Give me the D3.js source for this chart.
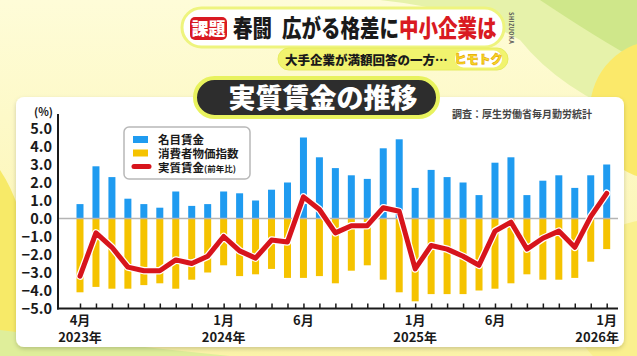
<!DOCTYPE html>
<html><head><meta charset="utf-8">
<script src="https://cdn.jsdelivr.net/npm/d3@7"></script>
<style>
html,body{margin:0;padding:0;overflow:hidden;background:#fdfbd2;}
svg{display:block;}
text{font-family:"Noto Sans CJK JP","Noto Sans",sans-serif;}
</style></head>
<body>
<script>
const months = ["2023-04","2023-05","2023-06","2023-07","2023-08","2023-09","2023-10","2023-11","2023-12",
"2024-01","2024-02","2024-03","2024-04","2024-05","2024-06","2024-07","2024-08","2024-09","2024-10","2024-11","2024-12",
"2025-01","2025-02","2025-03","2025-04","2025-05","2025-06","2025-07","2025-08","2025-09","2025-10","2025-11","2025-12",
"2026-01"];
const nominal = [0.8,2.9,2.3,1.1,0.8,0.6,1.5,0.7,0.8,1.5,1.4,1.0,1.6,2.0,4.5,3.4,2.8,2.4,2.2,3.9,4.4,1.7,2.7,2.3,2.0,1.3,3.1,3.4,1.3,2.1,2.4,1.7,2.4,3.0];
const consumer = [-4.1,-3.8,-3.9,-3.9,-3.7,-3.6,-3.9,-3.4,-3.0,-2.6,-3.2,-3.1,-2.8,-3.3,-3.3,-3.2,-3.6,-2.9,-2.6,-3.4,-4.1,-4.6,-4.2,-4.2,-4.2,-4.0,-3.9,-3.6,-3.1,-3.4,-3.4,-3.3,-2.4,-1.7];
const real = [-3.2,-0.8,-1.6,-2.7,-2.9,-2.9,-2.3,-2.5,-2.1,-1.0,-1.8,-2.2,-1.2,-1.3,1.2,0.5,-0.8,-0.4,-0.4,0.6,0.4,-2.8,-1.5,-1.7,-2.1,-2.6,-0.7,-0.2,-1.7,-1.1,-0.7,-1.6,0.1,1.4];
const yTicks = [5,4,3,2,1,0,-1,-2,-3,-4,-5];
const labelMonths = ["2023-04","2024-01","2024-06","2025-01","2025-06","2026-01"];
const labelTop = ["4月","1月","6月","1月","6月","1月"];
const labelBottom = ["2023年","2024年","","2025年","","2026年"];
const legendLabels = ["名目賃金","消費者物価指数","実質賃金"];
const colors = {nominal:"#1f9bf0", consumer:"#f5c300", real:"#d7141c"};

const W=637,H=356;
const svg=d3.select("body").append("svg").attr("width",W).attr("height",H);
const defs=svg.append("defs");
const bg=defs.append("linearGradient").attr("id","bg").attr("x1",0).attr("y1",0).attr("x2",0).attr("y2",1);
bg.append("stop").attr("offset","0%").attr("stop-color","#fefcd8");
bg.append("stop").attr("offset","100%").attr("stop-color","#fbf3a8");
const sh=defs.append("filter").attr("id","sh").attr("x","-5%").attr("y","-5%").attr("width","110%").attr("height","115%");
sh.append("feDropShadow").attr("dx",0).attr("dy",2).attr("stdDeviation",2).attr("flood-color","#000").attr("flood-opacity",0.18);

// background
svg.append("rect").attr("width",W).attr("height",H).attr("fill","url(#bg)");
svg.append("path").attr("d","M380,0 L637,0 L637,120 Q560,90 520,40 Q470,10 380,0Z").attr("fill","#e6f2aa");
svg.append("path").attr("d","M540,0 L637,0 L637,60 Q600,40 540,0Z").attr("fill","#cfe78a");
svg.append("circle").attr("cx",660).attr("cy",110).attr("r",70).attr("fill","#fbe96a");
svg.append("circle").attr("cx",650).attr("cy",300).attr("r",80).attr("fill","#faf08e");
svg.append("path").attr("d","M0,170 Q40,230 30,356 L0,356Z").attr("fill","#f7ea68");
svg.append("path").attr("d","M0,356 L0,330 Q120,345 230,356Z").attr("fill","#dfee9a");

// panel
svg.append("rect").attr("x",16).attr("y",97).attr("width",608).attr("height",250).attr("rx",8)
  .attr("fill","#fff").attr("filter","url(#sh)");

// header pill
svg.append("rect").attr("x",182).attr("y",8).attr("width",322).attr("height",39).attr("rx",19.5)
  .attr("fill","#fff").attr("stroke","#eef47e").attr("stroke-width",3);
svg.append("rect").attr("x",190).attr("y",17).attr("width",37).attr("height",23).attr("rx",5).attr("fill","#d91a22");
svg.append("text").attr("x",208.5).attr("y",35).attr("text-anchor","middle").attr("fill","#fff")
  .attr("font-size",17).attr("font-weight",900).text("課題");
const ht=svg.append("text").attr("transform","translate(233,37) scale(1,1.22)").attr("font-size",19.5).attr("font-weight",900).attr("fill","#1a1a1a");
ht.append("tspan").text("春闘");
ht.append("tspan").attr("dx",10).text("広がる格差に");
ht.append("tspan").attr("fill","#d91a22").text("中小企業は");
svg.append("text").attr("transform","translate(509,12) rotate(90)").attr("font-size",5.5).attr("font-weight",700)
  .attr("fill","#555").attr("letter-spacing",0.5).text("SHIZUOKA");

// sub pill
svg.append("rect").attr("x",278).attr("y",48).attr("width",230).attr("height",22).attr("rx",11)
  .attr("fill","#f1f36e").attr("stroke","#e6ec60").attr("stroke-width",1);
svg.append("text").attr("x",285).attr("y",64.5).attr("font-size",12.5).attr("font-weight",900).attr("fill","#1a1a1a")
  .text("大手企業が満額回答の一方…");
svg.append("rect").attr("x",455).attr("y",50.5).attr("width",47).attr("height",17).attr("rx",8.5).attr("fill","#fff");
svg.append("text").attr("x",478.5).attr("y",64).attr("text-anchor","middle").attr("font-size",12).attr("font-weight",900)
  .attr("fill","#f7dc2a").attr("stroke","#e8a800").attr("stroke-width",0.7).text("ヒモトク");

// title pill
svg.append("rect").attr("x",195).attr("y",78).attr("width",243).attr("height",39).attr("rx",19.5)
  .attr("fill","#2d2d2d").attr("stroke","#e8f25e").attr("stroke-width",4);
svg.append("text").attr("x",323).attr("y",108).attr("text-anchor","middle").attr("font-size",27).attr("font-weight",900)
  .attr("fill","#fff").text("実質賃金の推移");
svg.append("text").attr("x",452).attr("y",118).attr("font-size",10).attr("font-weight",700).attr("fill","#444")
  .text("調査：厚生労働省毎月勤労統計");

// scales
const x=d3.scalePoint().domain(months).range([80,606.7]);
const y=d3.scaleLinear().domain([-5,5]).range([308.5,128.5]);
const bw=7;
const g=svg.append("g");

g.selectAll(".c").data(consumer).join("rect").attr("class","c")
  .attr("x",(d,i)=>x(months[i])-bw/2).attr("width",bw)
  .attr("y",y(0)).attr("height",d=>y(d)-y(0)).attr("fill",colors.consumer);
g.selectAll(".n").data(nominal).join("rect").attr("class","n")
  .attr("x",(d,i)=>x(months[i])-bw/2).attr("width",bw)
  .attr("y",d=>y(d)).attr("height",d=>y(0)-y(d)).attr("fill",colors.nominal);

// zero line
g.append("line").attr("x1",58).attr("x2",618).attr("y1",y(0)).attr("y2",y(0)).attr("stroke","#b4b4b4").attr("stroke-width",1.5);

// real line
const line=d3.line().x((d,i)=>x(months[i])).y(d=>y(d));
g.append("path").attr("d",line(real)).attr("fill","none").attr("stroke","#fff").attr("stroke-width",7.5)
  .attr("stroke-linejoin","round").attr("stroke-linecap","round");
g.append("path").attr("d",line(real)).attr("fill","none").attr("stroke",colors.real).attr("stroke-width",5)
  .attr("stroke-linejoin","round").attr("stroke-linecap","round");

// y axis
const ya=svg.append("g").attr("transform","translate(58,0)")
  .call(d3.axisLeft(y).tickValues(yTicks).tickSize(0).tickPadding(6).tickFormat(d3.format(".1f")));
ya.select(".domain").remove();
ya.selectAll("text").attr("font-size",14.5).attr("font-weight",700).attr("fill","#1a1a1a")
  .attr("font-family","Roboto, 'Noto Sans', sans-serif").attr("dy","0.36em");
svg.append("line").attr("x1",58).attr("x2",58).attr("y1",114).attr("y2",309.5).attr("stroke","#1a1a1a").attr("stroke-width",2);
svg.append("text").attr("x",43.5).attr("y",116).attr("text-anchor","middle").attr("font-size",11).attr("font-weight",700)
  .attr("fill","#1a1a1a").text("(%)");

// x axis
const xa=svg.append("g").attr("transform","translate(0,308.5)")
  .call(d3.axisBottom(x).tickSize(-5).tickFormat(""));
xa.select(".domain").remove();
xa.selectAll("line").attr("stroke","#1a1a1a").attr("stroke-width",1.5);
svg.append("line").attr("x1",57).attr("x2",618).attr("y1",308.5).attr("y2",308.5).attr("stroke","#1a1a1a").attr("stroke-width",2);
labelMonths.forEach((m,i)=>{
  const last=i===labelMonths.length-1;
  svg.append("text").attr("x",x(m)).attr("y",325).attr("text-anchor","middle").attr("font-size",13).attr("font-weight",700)
    .attr("fill","#1a1a1a").text(labelTop[i]);
  if(labelBottom[i]) svg.append("text").attr("x",last?619:x(m)).attr("y",342).attr("text-anchor",last?"end":"middle")
    .attr("font-size",13).attr("font-weight",700).attr("fill","#1a1a1a").text(labelBottom[i]);
});

// legend
const lg=svg.append("g");
lg.append("rect").attr("x",124).attr("y",127).attr("width",126).attr("height",52).attr("rx",5)
  .attr("fill","#fff").attr("stroke","#b8b8b8").attr("stroke-width",1.5);
lg.append("rect").attr("x",133).attr("y",136).attr("width",15).attr("height",7).attr("fill",colors.nominal);
lg.append("rect").attr("x",133).attr("y",149.5).attr("width",15).attr("height",7).attr("fill",colors.consumer);
lg.append("line").attr("x1",134).attr("x2",149).attr("y1",166.5).attr("y2",166.5).attr("stroke",colors.real).attr("stroke-width",5).attr("stroke-linecap","round");
lg.append("text").attr("x",158).attr("y",144).attr("font-size",11.5).attr("font-weight",700).attr("fill","#1a1a1a").text(legendLabels[0]);
lg.append("text").attr("x",158).attr("y",157.8).attr("font-size",11.5).attr("font-weight",700).attr("fill","#1a1a1a").text(legendLabels[1]);
const l3=lg.append("text").attr("x",158).attr("y",171.5).attr("font-size",11.5).attr("font-weight",700).attr("fill","#1a1a1a");
l3.append("tspan").text(legendLabels[2]);
l3.append("tspan").attr("font-size",8.5).text("(前年比)");
</script>
</body></html>
